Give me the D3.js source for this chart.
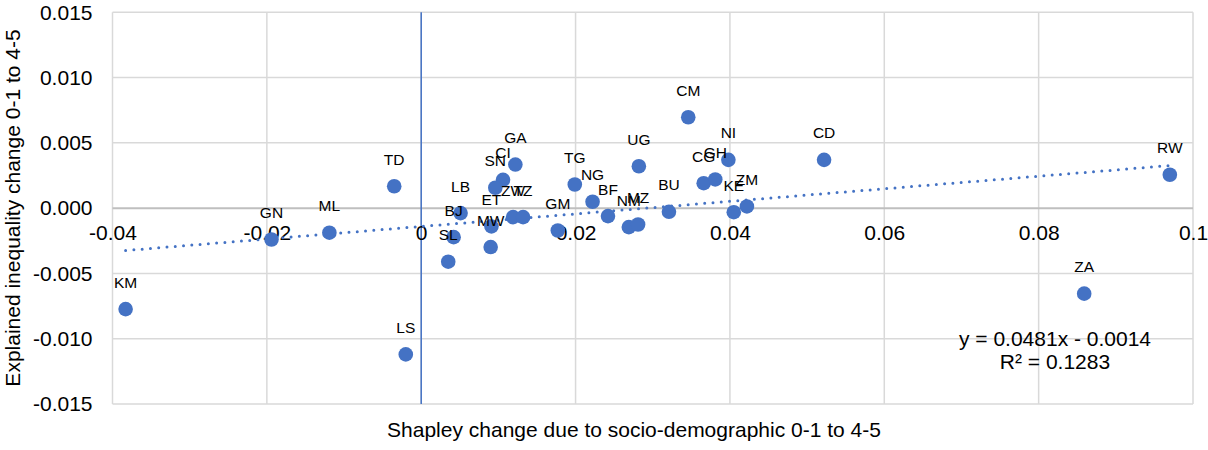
<!DOCTYPE html>
<html lang="en">
<head>
  <meta charset="utf-8"/>
  <script src="https://d3js.org/d3.v7.min.js"></script>
  <style>
  body{ margin:0; background:#fff; }
  text{ font-family:"Liberation Sans", Arial, sans-serif; fill:#000; }
  .grid{ stroke:#d9d9d9; stroke-width:1.5px; }
  .zero{ stroke:#bfbfbf; stroke-width:2px; }
  .yaxis-line{ stroke:#4472c4; stroke-width:1.5px; }
  .trend{ fill:none; stroke:#4472c4; stroke-width:3px; stroke-linecap:round; stroke-dasharray:0 8.3; }
  .dot{ fill:#4472c4; }
  </style>
</head>
<body>
<svg id="chart" width="1208" height="450"></svg>
<script>
  // country codes and values
  const codes = ["KM","GN","ML","TD","LS","LB","BJ","SL","GA","CI","SN","ZW","TZ","ET","MW","TG",
                 "NG","BF","GM","NM","MZ","UG","BU","CM","CG","GH","NI","KE","ZM","CD","RW","ZA"];
  const shapley = [-0.0383,-0.0194,-0.0119,-0.0035,-0.0020,0.0051,0.0042,0.0035,0.0122,0.0106,0.0096,0.0119,
                   0.0132,0.0091,0.0090,0.0199,0.0222,0.0242,0.0177,0.0269,0.0281,0.0282,0.0321,0.0346,
                   0.0366,0.0381,0.0398,0.0405,0.0422,0.0522,0.0970,0.0859];
  const explained = [-0.00773,-0.0024,-0.00188,0.00168,-0.0112,-0.00038,-0.00222,-0.0041,0.00334,0.00217,
                     0.00156,-0.00069,-0.00069,-0.0014,-0.00298,0.00181,0.00049,-0.00061,-0.00171,-0.00145,
                     -0.00125,0.00321,-0.00028,0.00696,0.00191,0.0022,0.0037,-0.00031,0.00013,0.0037,
                     0.00256,-0.00655];
  const xTicks = [-0.04,-0.02,0,0.02,0.04,0.06,0.08,0.1];
  const yTicks = [-0.015,-0.01,-0.005,0,0.005,0.01,0.015];
  const trendCoef = [0.0481,-0.0014];
  const eqLines = ["y = 0.0481x - 0.0014","R² = 0.1283"];

  const svg = d3.select("#chart");
  const plotLeft = 112.5, plotRight = 1193, plotTop = 12.3, plotBottom = 404;

  const x = d3.scaleLinear().domain([-0.04,0.1]).range([plotLeft,plotRight]);
  const y = d3.scaleLinear().domain([-0.015,0.015]).range([plotBottom,plotTop]);

  // gridlines
  svg.append("g").selectAll("line").data(xTicks).enter().append("line")
    .attr("class","grid")
    .attr("x1",d => x(d)).attr("x2",d => x(d))
    .attr("y1",plotTop).attr("y2",plotBottom);
  svg.append("g").selectAll("line").data(yTicks.filter(d => d !== 0)).enter().append("line")
    .attr("class","grid")
    .attr("x1",plotLeft).attr("x2",plotRight)
    .attr("y1",d => y(d)).attr("y2",d => y(d));
  svg.append("line").attr("class","zero")
    .attr("x1",plotLeft).attr("x2",plotRight)
    .attr("y1",y(0)).attr("y2",y(0));
  svg.append("line").attr("class","yaxis-line")
    .attr("x1",x(0)).attr("x2",x(0))
    .attr("y1",plotTop).attr("y2",plotBottom);

  // tick labels
  const yAxis = svg.append("g")
    .attr("transform","translate("+plotLeft+",0)")
    .call(d3.axisLeft(y).tickValues(yTicks).tickSize(0).tickPadding(20)
      .tickFormat(d => d.toFixed(3)));
  const xAxis = svg.append("g")
    .attr("transform","translate(0,"+y(0)+")")
    .call(d3.axisBottom(x).tickValues(xTicks).tickSize(0).tickPadding(17)
      .tickFormat(d => String(d)));
  [yAxis,xAxis].forEach(a => {
    a.select(".domain").remove();
    a.selectAll("text").style("font-size","21px").style("font-family","'Liberation Sans', Arial, sans-serif").attr("fill","#000");
  });

  // trendline
  const xr = d3.extent(shapley);
  svg.append("path")
    .attr("class","trend")
    .attr("d", d3.line()(xr.map(v => [x(v), y(trendCoef[0]*v + trendCoef[1])])));

  // points + labels
  const pts = codes.map((c,i) => ({code:c, sx:shapley[i], ey:explained[i]}));
  svg.append("g").selectAll("circle").data(pts).enter().append("circle")
    .attr("class","dot")
    .attr("cx",d => x(d.sx)).attr("cy",d => y(d.ey)).attr("r",7.3);
  svg.append("g").selectAll("text").data(pts).enter().append("text")
    .attr("x",d => x(d.sx)).attr("y",d => y(d.ey) - 21.5)
    .attr("text-anchor","middle")
    .style("font-size","15.5px")
    .text(d => d.code);

  // equation
  svg.append("g").selectAll("text").data(eqLines).enter().append("text")
    .attr("x",1055).attr("y",(d,i) => 345.5 + i*23.5)
    .attr("text-anchor","middle")
    .style("font-size","21px")
    .text(d => d);

  // axis titles
  svg.append("text")
    .attr("x",634).attr("y",437)
    .attr("text-anchor","middle")
    .style("font-size","21px")
    .text("Shapley change due to socio-demographic 0-1 to 4-5");
  svg.append("text")
    .attr("transform","translate(20,208) rotate(-90)")
    .attr("text-anchor","middle")
    .style("font-size","21px")
    .text("Explained inequality change 0-1 to 4-5");
</script>
</body>
</html>
